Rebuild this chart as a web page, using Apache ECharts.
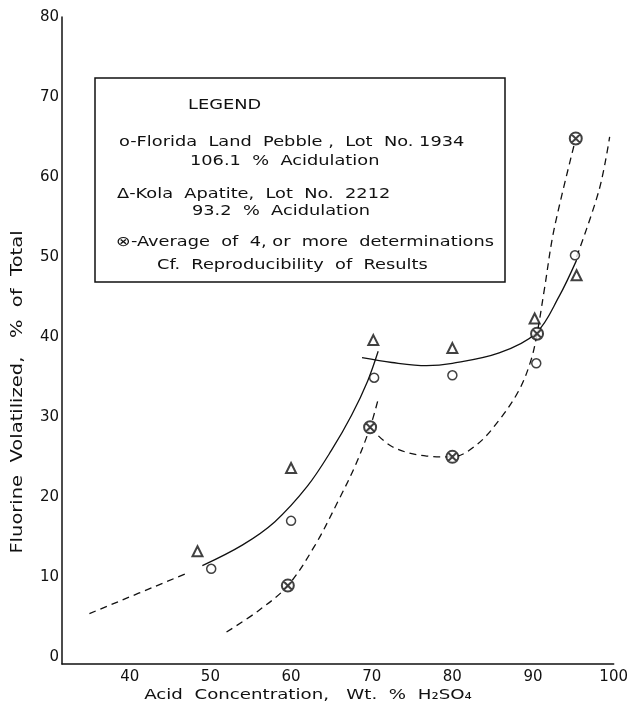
<!DOCTYPE html>
<html>
<head>
<meta charset="utf-8">
<script src="https://cdn.jsdelivr.net/npm/echarts@6/dist/echarts.min.js"></script>
<style>
html,body{margin:0;padding:0;background:#fff;}
#chart{width:631px;height:705px;}
</style>
</head>
<body>
<div id="chart"></div>
<script>
// ---- data ----
var xTicks = [40, 50, 60, 70, 80, 90, 100];
var yTicks = [0, 10, 20, 30, 40, 50, 60, 70, 80];

// Florida Land Pebble (circles)
var floridaX = [50.1, 60.0, 70.3, 80.0, 90.4, 95.2];
var floridaY = [11.0, 17.0, 34.9, 35.2, 36.7, 50.2];
// Kola Apatite (triangles)
var kolaX = [48.4, 60.0, 70.2, 80.0, 90.2, 95.4];
var kolaY = [13.2, 23.6, 39.6, 38.6, 42.3, 47.7];
// Average of 4 or more determinations (crossed circles)
var avgX = [59.6, 69.8, 80.0, 90.5, 95.3];
var avgY = [8.9, 28.7, 25.0, 40.4, 64.8];

// fitted curves
var solidLowX = [49.0, 54.0, 58.0, 62.0, 65.0, 67.5, 69.5, 70.8];
var solidLowY = [11.4, 14.0, 16.9, 21.3, 25.8, 30.2, 34.5, 38.2];
var solidHighX = [68.8, 72.5, 76.8, 80.0, 85.8, 90.4, 93.2, 95.4];
var solidHighY = [37.4, 36.8, 36.4, 36.7, 38.0, 40.5, 45.0, 49.6];
var dashLeftX = [35.0, 47.2];
var dashLeftY = [5.4, 10.5];
var dashRightX = [95.4, 98.2, 99.5];
var dashRightY = [50.0, 58.4, 65.0];
var dashRiseX = [52.0, 56.0, 59.6, 63.0, 66.0, 68.0, 69.8, 70.8];
var dashRiseY = [3.1, 5.8, 8.9, 14.0, 19.8, 24.0, 28.7, 32.2];
var dashDipX = [69.8, 72.5, 76.8, 80.0, 83.0, 85.8, 88.3, 89.75, 90.5, 91.4, 92.6, 95.3];
var dashDipY = [28.7, 26.3, 25.1, 25.0, 26.5, 29.6, 33.4, 37.1, 40.4, 45.9, 53.4, 64.8];

var legendLines = [
  'LEGEND',
  'o-Florida  Land  Pebble ,  Lot  No. 1934',
  '106.1  %  Acidulation',
  '\u0394-Kola  Apatite,  Lot  No.  2212',
  '93.2  %  Acidulation',
  '\u2297-Average  of  4, or  more  determinations',
  'Cf.  Reproducibility  of  Results'
];
var yName = 'Fluorine  Volatilized,   %  of  Total';
var xName = 'Acid  Concentration,   Wt.  %  H\u2082SO\u2084';

// ---- build ----
function zip(xs, ys) { return xs.map(function (x, i) { return [x, ys[i]]; }); }
var FONT = '"DejaVu Sans", sans-serif';
var INK = '#111';

function curve(xs, ys, dashed) {
  return {
    type: 'line', data: zip(xs, ys), symbol: 'none', smooth: 0.35,
    silent: true, z: 2,
    lineStyle: { color: INK, width: 1.3, type: dashed ? [7, 5] : 'solid' }
  };
}

var crossPath = 'path://M0,6 A6,6 0 1,1 12,6 A6,6 0 1,1 0,6 Z M1.9,1.9 L10.1,10.1 M10.1,1.9 L1.9,10.1';

var legendPos = [[188, 105], [119, 142], [190, 161], [117, 194], [192, 211], [116, 242], [157, 265]];
var legendGraphics = legendLines.map(function (t, i) {
  return { type: 'text', x: legendPos[i][0], y: legendPos[i][1], scaleX: 1.27, z: 11,
    style: { text: t, font: '14px ' + FONT, fill: INK, verticalAlign: 'middle' } };
});

var option = {
  backgroundColor: '#fff',
  animation: false,
  grid: { left: 62, right: 16, top: 17, bottom: 41 },
  xAxis: {
    type: 'value', min: 31.6, max: 100,
    axisLine: { show: true, onZero: false, lineStyle: { color: INK, width: 1.5 } },
    axisTick: { show: false },
    splitLine: { show: false },
    axisLabel: { customValues: xTicks, color: INK, fontFamily: FONT, fontSize: 15, margin: 6 }
  },
  yAxis: {
    type: 'value', min: -0.9, max: 80,
    axisLine: { show: true, onZero: false, lineStyle: { color: INK, width: 1.5 } },
    axisTick: { show: false },
    splitLine: { show: false },
    axisLabel: { customValues: yTicks, color: INK, fontFamily: FONT, fontSize: 15, margin: 3 }
  },
  series: [
    curve(solidLowX, solidLowY, false),
    curve(solidHighX, solidHighY, false),
    curve(dashLeftX, dashLeftY, true),
    curve(dashRightX, dashRightY, true),
    curve(dashRiseX, dashRiseY, true),
    curve(dashDipX, dashDipY, true),
    {
      type: 'scatter', data: zip(floridaX, floridaY), symbol: 'circle', symbolSize: 9, z: 5,
      itemStyle: { color: '#fff', borderColor: INK, borderWidth: 1.5 }
    },
    {
      type: 'scatter', data: zip(kolaX, kolaY), symbol: 'triangle', symbolSize: [10, 10], z: 5,
      itemStyle: { color: '#fff', borderColor: INK, borderWidth: 2 }
    },
    {
      type: 'scatter', data: zip(avgX, avgY), symbol: crossPath, symbolSize: 12, z: 6,
      itemStyle: { color: '#fff', borderColor: INK, borderWidth: 2 }
    }
  ],
  graphic: [
    { type: 'rect', shape: { x: 95, y: 78, width: 410, height: 204 }, z: 10,
      style: { fill: '#fff', stroke: INK, lineWidth: 1.5 } }
  ].concat(legendGraphics).concat([
    { type: 'text', x: 18, y: 392, rotation: Math.PI / 2, scaleX: 1.3, z: 11,
      style: { text: yName, font: '15px ' + FONT, fill: INK, align: 'center', verticalAlign: 'middle' } },
    { type: 'text', x: 308, y: 695, scaleX: 1.3, z: 11,
      style: { text: xName, font: '14px ' + FONT, fill: INK, align: 'center', verticalAlign: 'middle' } }
  ])
};

var chart = echarts.init(document.getElementById('chart'), null, { renderer: 'canvas' });
chart.setOption(option);
</script>
</body>
</html>
